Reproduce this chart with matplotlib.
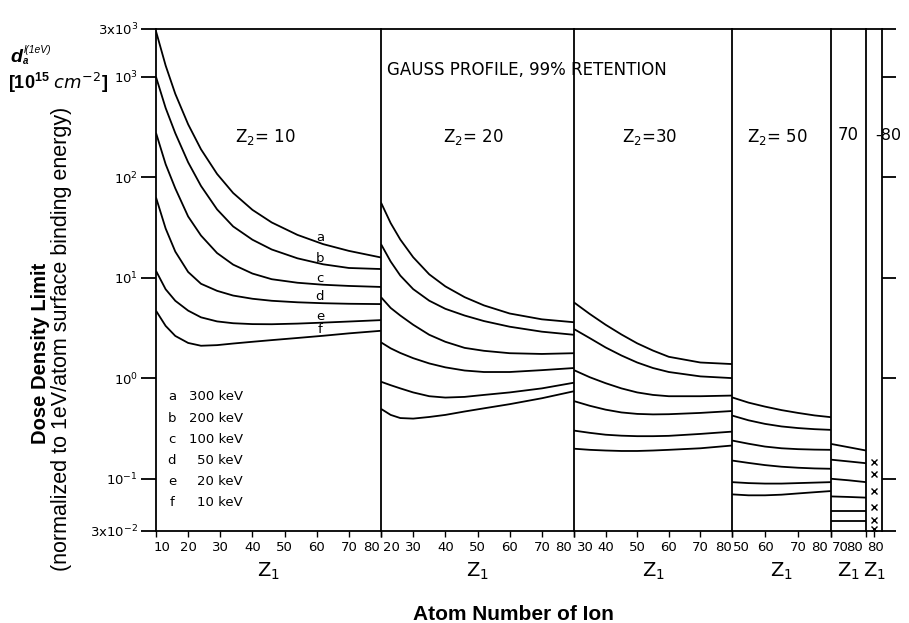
import matplotlib
matplotlib.use("Agg")
import matplotlib.pyplot as plt
from matplotlib.transforms import ScaledTranslation

W, H = 909, 623
FONT = "DejaVu Sans"
plt.rcParams["font.family"] = FONT
plt.rcParams["mathtext.default"] = "regular"

# curve labels and beam energies
curve_ids = ["a", "b", "c", "d", "e", "f"]
energies = ["300 keV", "200 keV", "100 keV", "50 keV", "20 keV", "10 keV"]

# Z2 = 10
z1_10 = [10, 13, 16, 20, 24, 29, 34, 40, 46, 54, 62, 70, 80]
d10_a = [2850, 1297, 678, 337, 190, 108, 69.8, 47.4, 35.5, 26.7, 21.6, 18.5, 15.9]
d10_b = [1000, 490, 275, 141, 82, 47.9, 32.4, 23.9, 19.1, 15.6, 13.6, 12.5, 12.2]
d10_c = [277, 135, 77.6, 40.7, 26.3, 17.6, 13.5, 11.0, 9.66, 8.91, 8.51, 8.28, 8.09]
d10_d = [63, 30.9, 18.2, 11.4, 8.7, 7.4, 6.64, 6.17, 5.89, 5.69, 5.57, 5.50, 5.46]
d10_e = [11.7, 7.67, 5.89, 4.70, 4.03, 3.67, 3.52, 3.45, 3.44, 3.49, 3.57, 3.66, 3.78]
d10_f = [4.69, 3.31, 2.63, 2.24, 2.10, 2.13, 2.21, 2.30, 2.39, 2.51, 2.64, 2.79, 2.96]

# Z2 = 20
z1_20 = [20, 23, 26, 30, 35, 40, 46, 52, 60, 70, 80]
d20_a = [56, 35, 24, 16, 10.8, 8.2, 6.4, 5.3, 4.4, 3.85, 3.6]
d20_b = [21.6, 14.5, 10.5, 7.7, 5.9, 4.9, 4.2, 3.7, 3.25, 2.9, 2.7]
d20_c = [6.4, 5.0, 4.2, 3.4, 2.7, 2.3, 2.0, 1.87, 1.77, 1.74, 1.77]
d20_d = [2.27, 1.98, 1.78, 1.58, 1.4, 1.28, 1.19, 1.15, 1.15, 1.2, 1.26]
d20_e = [0.92, 0.85, 0.79, 0.72, 0.66, 0.64, 0.65, 0.68, 0.72, 0.79, 0.9]
d20_f = [0.494, 0.43, 0.40, 0.395, 0.41, 0.43, 0.465, 0.5, 0.55, 0.63, 0.74]

# Z2 = 30
z1_30 = [30, 35, 40, 45, 50, 55, 60, 70, 80]
d30_a = [5.67, 4.35, 3.4, 2.72, 2.22, 1.88, 1.63, 1.43, 1.38]
d30_b = [3.08, 2.5, 2.02, 1.68, 1.43, 1.26, 1.15, 1.04, 1.0]
d30_c = [1.2, 1.02, 0.89, 0.79, 0.72, 0.68, 0.66, 0.66, 0.67]
d30_d = [0.59, 0.53, 0.485, 0.455, 0.44, 0.435, 0.437, 0.45, 0.47]
d30_e = [0.30, 0.285, 0.273, 0.267, 0.264, 0.264, 0.266, 0.278, 0.293]
d30_f = [0.198, 0.193, 0.19, 0.188, 0.188, 0.19, 0.193, 0.2, 0.213]

# Z2 = 50
z1_50 = [50, 55, 60, 65, 70, 75, 80]
d50_a = [0.643, 0.57, 0.52, 0.48, 0.45, 0.425, 0.408]
d50_b = [0.424, 0.38, 0.35, 0.33, 0.318, 0.31, 0.305]
d50_c = [0.239, 0.222, 0.208, 0.2, 0.196, 0.194, 0.193]
d50_d = [0.151, 0.143, 0.136, 0.131, 0.128, 0.126, 0.125]
d50_e = [0.092, 0.09, 0.089, 0.089, 0.09, 0.091, 0.092]
d50_f = [0.0695, 0.068, 0.068, 0.069, 0.071, 0.073, 0.075]

# Z2 = 70
z1_70 = [70, 75, 80]
d70_a = [0.221, 0.205, 0.19]
d70_b = [0.154, 0.148, 0.142]
d70_c = [0.0994, 0.096, 0.092]
d70_d = [0.0663, 0.0655, 0.0645]
d70_e = [0.048, 0.048, 0.048]
d70_f = [0.038, 0.038, 0.038]

# Z2 = 80 (single points)
z1_80 = [80]
d80 = [0.146, 0.112, 0.075, 0.052, 0.0383, 0.0317]

ytick_vals = [3e-2, 1e-1, 1, 10, 100, 1000, 3000]
ytick_txt = ["3x10$^{-2}$", "10$^{-1}$", "10$^{0}$", "10$^{1}$",
             "10$^{2}$", "10$^{3}$", "3x10$^{3}$"]

# panel edges (px) and Z1 range of each panel
edges = [156, 381, 574, 732, 831, 866, 882]
xlims = [(10, 80), (20, 80), (30, 80), (50, 80), (70, 80), (76, 84)]
xticks = [[10, 20, 30, 40, 50, 60, 70, 80], [20, 30, 40, 50, 60, 70, 80],
          [30, 40, 50, 60, 70, 80], [50, 60, 70, 80], [70, 80], [80]]
# horizontal nudges (px) for crowded end labels
label_shift = [{10: 6, 80: -9}, {20: 10, 80: -11}, {30: 11, 80: -9},
               {50: 9, 80: -11}, {70: 9, 80: -11}, {80: 2}]
panel_data = [
    (z1_10, [d10_a, d10_b, d10_c, d10_d, d10_e, d10_f]),
    (z1_20, [d20_a, d20_b, d20_c, d20_d, d20_e, d20_f]),
    (z1_30, [d30_a, d30_b, d30_c, d30_d, d30_e, d30_f]),
    (z1_50, [d50_a, d50_b, d50_c, d50_d, d50_e, d50_f]),
    (z1_70, [d70_a, d70_b, d70_c, d70_d, d70_e, d70_f]),
]
TOP, BOT = 29, 531


def fx(x):
    return x / W


def fy(y):
    return 1 - y / H


fig = plt.figure(figsize=(W / 100, H / 100), dpi=100)
axes = []
for i in range(6):
    l, r = edges[i], edges[i + 1]
    ax = fig.add_axes([fx(l), fy(BOT), (r - l) / W, (BOT - TOP) / H])
    ax.set_yscale("log")
    ax.set_ylim(3e-2, 3e3)
    ax.set_xlim(*xlims[i])
    ax.patch.set_alpha(0)
    for s in ax.spines.values():
        s.set_linewidth(1.3)
    ax.spines["right"].set_visible(i == 5)
    ax.minorticks_off()
    ax.set_xticks(xticks[i])
    ax.set_xticklabels([str(t) for t in xticks[i]])
    ax.tick_params(axis="x", direction="out", length=4, width=1.0,
                   labelsize=9.5, pad=3)
    for t, lab in zip(xticks[i], ax.get_xticklabels()):
        dx = label_shift[i].get(t, 0)
        lab.set_transform(lab.get_transform() +
                          ScaledTranslation(dx / 100, 0, fig.dpi_scale_trans))
    ax.set_yticks(ytick_vals)
    ax.yaxis.set_minor_locator(matplotlib.ticker.NullLocator())
    if i == 0:
        ax.set_yticklabels(ytick_txt)
        ax.tick_params(axis="y", direction="out", length=11, width=1.3,
                       labelsize=9.5, pad=2)
    elif i == 5:
        ax.yaxis.tick_right()
        ax.set_yticklabels([])
        ax.tick_params(axis="y", direction="out", length=10, width=1.3)
    else:
        ax.tick_params(axis="y", left=False, labelleft=False)
    axes.append(ax)

for ax, (z1, curves) in zip(axes, panel_data):
    for vals in curves:
        ax.plot(z1, vals, color="black", lw=1.3, solid_capstyle="butt",
                solid_joinstyle="round")

axes[5].plot(z1_80 * len(d80), d80, ls="none", marker="x", color="black",
             ms=4, mew=1.0)

# curve letters on the Z2 = 10 panel
for cid, vals in zip(curve_ids, panel_data[0][1]):
    axes[0].annotate(cid, (61, vals[10]), xytext=(0, 2), textcoords="offset points",
                     ha="center", va="baseline", fontsize=9.5)

# energy key
for k, (cid, en) in enumerate(zip(curve_ids, energies)):
    yy = 397 + k * 21.2
    fig.text(fx(172), fy(yy), cid, ha="center", va="center", fontsize=9.5)
    fig.text(fx(243), fy(yy), en, ha="right", va="center", fontsize=9.5)

# panel titles
fig.text(fx(387), fy(70), "GAUSS PROFILE, 99% RETENTION", ha="left",
         va="center", fontsize=12)
for xc, txt in [(265, "Z$_2$= 10"), (473, "Z$_2$= 20"), (650, "Z$_2$=30"),
                (777, "Z$_2$= 50")]:
    fig.text(fx(xc), fy(137), txt, ha="center", va="center", fontsize=12)
fig.text(fx(848), fy(135), "70", ha="center", va="center", fontsize=12)
fig.text(fx(875), fy(135), "-80", ha="left", va="center", fontsize=11.5)

# Z1 under each panel
for i in range(6):
    xc = (edges[i] + edges[i + 1]) / 2
    fig.text(fx(xc), fy(571), "Z$_1$", ha="center", va="center", fontsize=14)

fig.text(fx(513), fy(614), "Atom Number of Ion", ha="center", va="center",
         fontsize=15, fontweight="bold", family="Liberation Sans")

fig.text(fx(41), fy(353), "Dose Density Limit", rotation=90, ha="center",
         va="center", fontsize=14.5, fontweight="bold", family="Liberation Sans")
fig.text(fx(62), fy(339), "(normalized to 1eV/atom surface binding energy)",
         rotation=90, ha="center", va="center", fontsize=15.5,
         family="Liberation Sans")

fig.text(fx(10), fy(62), "d", ha="left", va="baseline", fontsize=14,
         fontweight="bold", style="italic", family="Liberation Sans")
fig.text(fx(23), fy(64), "a", ha="left", va="baseline", fontsize=7,
         fontweight="bold", style="italic", family="Liberation Sans")
fig.text(fx(24), fy(53), "l(1eV)", ha="left", va="baseline", fontsize=7.5,
         style="italic", family="Liberation Sans")
fig.text(fx(8), fy(83), r"[10$^{15}$ $\it{cm}^{-2}$]", ha="left", va="center",
         fontsize=13, fontweight="bold", family="Liberation Sans")

fig.savefig("out.png", dpi=100)
